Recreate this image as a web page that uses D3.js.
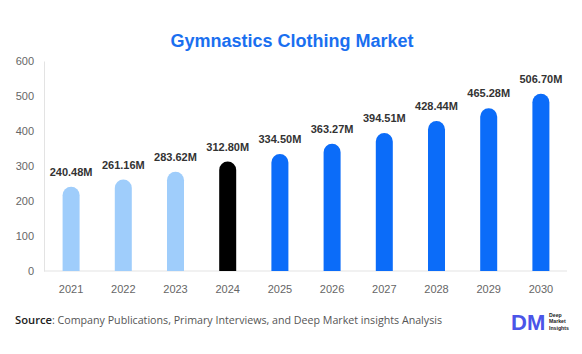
<!DOCTYPE html>
<html><head><meta charset="utf-8">
<script src="https://cdn.jsdelivr.net/npm/d3@7"></script>
<style>body{margin:0;background:#fff;}svg{display:block;font-family:Arial,"Liberation Sans",sans-serif;}</style>
</head><body>
<svg id="c" width="582" height="354"></svg>
<script>
const years = ["2021","2022","2023","2024","2025","2026","2027","2028","2029","2030"];
const values = [240.48,261.16,283.62,312.80,334.50,363.27,394.51,428.44,465.28,506.70];
const valueLabels = ["240.48M","261.16M","283.62M","312.80M","334.50M","363.27M","394.51M","428.44M","465.28M","506.70M"];
const yTicks = [0,100,200,300,400,500,600];
const colorOf = y => (+y < 2024 ? "#9fcdfb" : (+y === 2024 ? "#000000" : "#0b6cf9"));

const svg = d3.select("#c");
const m = {l:44, r:567, t:61, b:271};
const x = d3.scaleBand().domain(years).range([45, 567]).paddingInner(0).paddingOuter(0);
const y = d3.scaleLinear().domain([0,600]).range([m.b, m.t]);

svg.append("text").attr("x",292).attr("y",47).attr("text-anchor","middle")
  .attr("font-size",18).attr("font-weight","bold").attr("fill","#1a6ff0").text("Gymnastics Clothing Market");

// axes
const ya = svg.append("g").attr("transform",`translate(${m.l},0)`)
  .call(d3.axisLeft(y).tickValues(yTicks).tickSize(0).tickPadding(10));
ya.select(".domain").attr("stroke","#e3e3e3");
ya.selectAll("text").attr("font-size",11).attr("fill","#666").attr("font-family","Arial,sans-serif");

const xa = svg.append("g").attr("transform",`translate(0,${m.b})`)
  .call(d3.axisBottom(x).tickSize(0).tickPadding(14));
xa.select(".domain").attr("stroke","#e3e3e3").attr("d",`M${m.l},0H${m.r}`);
xa.selectAll("text").attr("font-size",11).attr("fill","#666").attr("font-family","Arial,sans-serif");

const bw = 17;
const data = years.map((yr,i)=>({yr, v:values[i], lab:valueLabels[i]}));
svg.append("g").selectAll("path").data(data).join("path")
  .attr("fill", d=>colorOf(d.yr))
  .attr("d", d=>{
    const cx = x(d.yr)+x.bandwidth()/2, x0 = cx-bw/2, x1 = cx+bw/2, top = y(d.v), r = bw/2, bot = y(0);
    return `M${x0},${bot}V${top+r}A${r},${r} 0 0 1 ${x1},${top+r}V${bot}Z`;
  });

svg.append("g").selectAll("text").data(data).join("text")
  .attr("x", d=>x(d.yr)+x.bandwidth()/2).attr("y", d=>y(d.v)-11)
  .attr("text-anchor","middle").attr("font-size",11).attr("font-weight","bold").attr("fill","#333")
  .text(d=>d.lab);

// source
svg.append("text").attr("x",15).attr("y",324).attr("font-size",11.5).attr("fill","#222")
  .attr("font-family","'Open Sans',sans-serif").attr("font-weight","600")
  .attr("textLength",37).attr("lengthAdjust","spacingAndGlyphs").text("Source");
svg.append("text").attr("x",52).attr("y",324).attr("font-size",11.5).attr("fill","#555")
  .attr("font-family","'Open Sans',sans-serif")
  .attr("textLength",390).attr("lengthAdjust","spacingAndGlyphs")
  .text(": Company Publications, Primary Interviews, and Deep Market insights Analysis");

// logo
const lg = svg.append("g");
lg.append("text").attr("x",511).attr("y",330).attr("font-size",22).attr("font-weight","bold")
  .attr("fill","#4b55e8").text("DM");
[["Deep",316.5],["Market",323.3],["Insights",330.1]].forEach(([t,yy])=>{
  lg.append("text").attr("x",549).attr("y",yy).attr("font-size",5.2).attr("font-weight","bold").attr("fill","#222").text(t);
});
</script>
</body></html>
